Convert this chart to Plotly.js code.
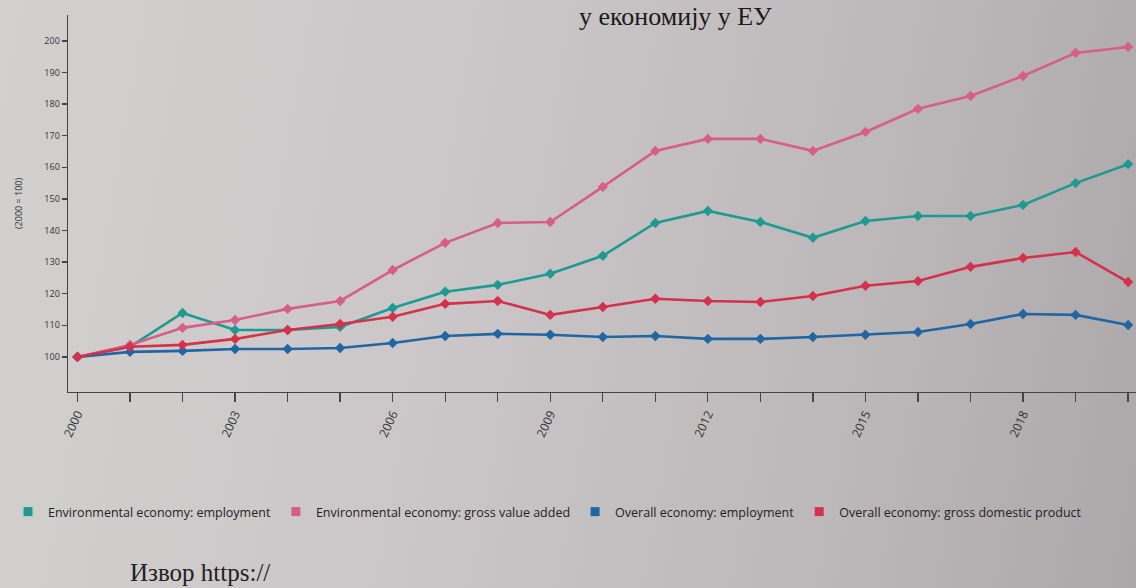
<!DOCTYPE html>
<html>
<head>
<meta charset="utf-8">
<script src="https://cdn.plot.ly/plotly-3.0.1.min.js"></script>
<style>
  html, body { margin:0; padding:0; }
  body {
    width:1136px; height:588px; overflow:hidden;
    background: linear-gradient(100deg, #d3d0d0 0%, #cbc7c8 40%, #bcb8b9 75%, #aca8a9 100%);
  }
  #chart { width:1136px; height:588px; }
</style>
</head>
<body>
<div id="chart"></div>
<script>
// ---- data (index, 2000 = 100) ----
const years = [2000, 2001, 2002, 2003, 2004, 2005, 2006, 2007, 2008, 2009, 2010,
               2011, 2012, 2013, 2014, 2015, 2016, 2017, 2018, 2019, 2020];
const envEmployment     = [100, 103.2, 113.9, 108.5, 108.5, 109.5, 115.5, 120.6, 122.8, 126.3, 132.0,
                           142.4, 146.2, 142.7, 137.7, 143.0, 144.6, 144.6, 148.1, 155.0, 161.0];
const envGrossValue     = [100, 103.8, 109.2, 111.7, 115.2, 117.7, 127.5, 136.1, 142.4, 142.7, 153.8,
                           165.2, 169.0, 169.0, 165.2, 171.2, 178.5, 182.6, 188.9, 196.2, 198.1];
const overallEmployment = [100, 101.6, 101.9, 102.5, 102.5, 102.8, 104.4, 106.6, 107.3, 107.0, 106.3,
                           106.6, 105.7, 105.7, 106.3, 107.0, 107.9, 110.4, 113.6, 113.3, 110.1];
const overallGDP        = [100, 103.2, 103.8, 105.7, 108.5, 110.4, 112.7, 116.8, 117.7, 113.3, 115.8,
                           118.4, 117.7, 117.4, 119.3, 122.5, 124.0, 128.5, 131.3, 133.2, 123.7];

const seriesNames = [
  'Environmental economy: employment',
  'Environmental economy: gross value added',
  'Overall economy: employment',
  'Overall economy: gross domestic product'
];
const seriesValues = [envEmployment, envGrossValue, overallEmployment, overallGDP];
const seriesColors = ['#1f9a93', '#d65e88', '#1f66a3', '#d5314b'];

const xTickVals = [2000, 2003, 2006, 2009, 2012, 2015, 2018];
const xTickText = ['2000', '2003', '2006', '2009', '2012', '2015', '2018'];
const yTickVals = [100, 110, 120, 130, 140, 150, 160, 170, 180, 190, 200];
const yTickText = ['100', '110', '120', '130', '140', '150', '160', '170', '180', '190', '200'];
const yAxisTitle = '(2000 = 100)';
const pageHeading = 'у економију у ЕУ';
const sourceText = 'Извор https://';

// ---- traces ----
const traces = [];
seriesValues.forEach((vals, i) => {
  traces.push({
    x: years, y: vals, type: 'scatter', mode: 'lines+markers',
    name: seriesNames[i], showlegend: false,
    line: { color: seriesColors[i], width: 2.6 },
    marker: { color: seriesColors[i], size: 8, symbol: 'diamond' },
    hoverinfo: 'x+y+name'
  });
});
// legend entries with square swatches
seriesNames.forEach((n, i) => {
  traces.push({
    x: [null], y: [null], type: 'scatter', mode: 'markers', name: n,
    marker: { color: seriesColors[i], size: 9, symbol: 'square' },
    showlegend: true, hoverinfo: 'skip'
  });
});

const W = 1136, H = 588;
const mL = 68, mR = 0, mT = 15, mB = 196;
const pw = W - mL - mR, ph = H - mT - mB;
const px = x => (x - mL) / pw;
const py = y => (H - mB - y) / ph;

const layout = {
  width: W, height: H,
  margin: { l: mL, r: mR, t: mT, b: mB, pad: 0 },
  paper_bgcolor: 'rgba(0,0,0,0)',
  plot_bgcolor: 'rgba(0,0,0,0)',
  font: { family: 'Open Sans, DejaVu Sans, sans-serif', color: '#333' },
  xaxis: {
    range: [1999.82, 2020.15],
    tickmode: 'array', tickvals: xTickVals, ticktext: xTickText,
    tickangle: -65, ticks: 'outside', ticklen: 9, tickwidth: 1.3, tickcolor: '#444',
    minor: { dtick: 1, tick0: 2000, ticks: 'outside', ticklen: 9, tickwidth: 1.3, tickcolor: '#444', showgrid: false },
    showline: true, linecolor: '#444', linewidth: 1.4,
    showgrid: false, zeroline: false,
    tickfont: { size: 12, color: '#333' },
    automargin: false
  },
  yaxis: {
    range: [88.9, 208.2],
    tickmode: 'array', tickvals: yTickVals, ticktext: yTickText,
    ticks: 'outside', ticklen: 5, tickwidth: 1.3, tickcolor: '#444',
    showline: true, linecolor: '#444', linewidth: 1.4,
    showgrid: false, zeroline: false,
    tickfont: { size: 9, color: '#333' },
    title: { text: yAxisTitle, font: { size: 9, color: '#333' }, standoff: 20 },
    automargin: false
  },
  showlegend: true,
  legend: {
    orientation: 'h',
    x: px(8), xanchor: 'left',
    y: py(512), yanchor: 'middle',
    font: { size: 12.5, color: '#222', family: 'Open Sans, DejaVu Sans, sans-serif' },
    bgcolor: 'rgba(0,0,0,0)',
    itemwidth: 30,
    tracegroupgap: 0
  },
  annotations: [
    {
      text: pageHeading, xref: 'paper', yref: 'paper',
      x: px(675), y: py(16), xanchor: 'center', yanchor: 'middle',
      showarrow: false,
      font: { family: 'Liberation Serif, DejaVu Serif, serif', size: 26, color: '#1a1a1a' }
    },
    {
      text: sourceText, xref: 'paper', yref: 'paper',
      x: px(128), y: py(572), xanchor: 'left', yanchor: 'middle',
      showarrow: false,
      font: { family: 'Liberation Serif, DejaVu Serif, serif', size: 25, color: '#222' }
    }
  ]
};

Plotly.newPlot('chart', traces, layout, { displayModeBar: false, staticPlot: true });
</script>
</body>
</html>
